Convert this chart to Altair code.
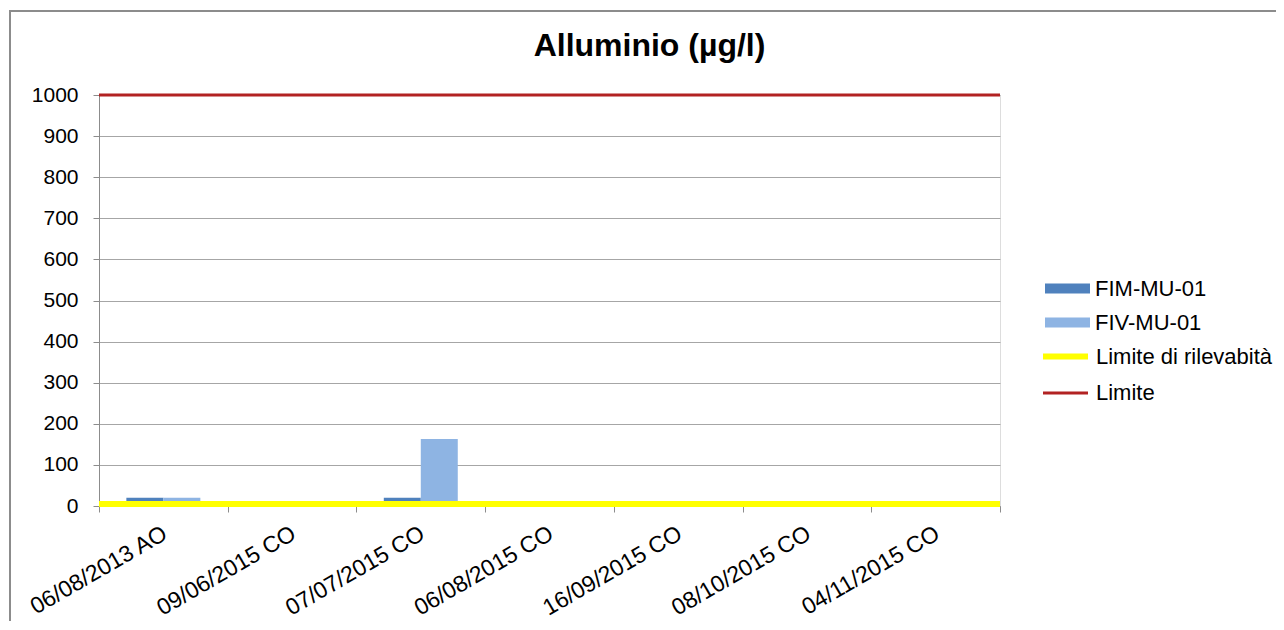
import altair as alt
import pandas as pd

# ---- data ----
categorie = ["06/08/2013 AO", "09/06/2015 CO", "07/07/2015 CO", "06/08/2015 CO",
             "16/09/2015 CO", "08/10/2015 CO", "04/11/2015 CO"]
fim_mu_01 = [20, None, 20, None, None, None, None]
fiv_mu_01 = [20, None, 163, None, None, None, None]
serie_barre = ["FIM-MU-01", "FIV-MU-01"]
colori_barre = ["#4F81BD", "#8EB4E3"]
serie_linee = ["Limite di rilevabità", "Limite"]
valori_linee = [5, 1000]
colori_linee = ["#FFFF00", "#B22222"]
spessori_linee = [6, 3]
y_ticks = list(range(0, 1001, 100))

FONT = "Liberation Sans"
GRAY = "#8C8C8C"

rows = []
for c, a, b in zip(categorie, fim_mu_01, fiv_mu_01):
    rows.append({"categoria": c, "serie": serie_barre[0], "valore": a})
    rows.append({"categoria": c, "serie": serie_barre[1], "valore": b})
df_bars = pd.DataFrame(rows).dropna()
df_lines = pd.DataFrame({"serie": serie_linee, "valore": valori_linee})

W, H = 901, 411

border = alt.Chart(pd.DataFrame({"k": [0]})).mark_rect(
    filled=False, stroke=GRAY, strokeWidth=2
).encode(
    x=alt.value(-89), x2=alt.value(1400), y=alt.value(-84), y2=alt.value(800)
)

x_enc = alt.X(
    "categoria:N", sort=categorie, title=None,
    scale=alt.Scale(domain=categorie, paddingInner=0, paddingOuter=0),
    axis=alt.Axis(
        tickBand="extent", labelAngle=-30, labelAlign="right", labelBaseline="top",
        labelFontSize=23, labelFont=FONT, labelColor="#000000", labelPadding=10,
        labelOffset=-4,
        tickSize=6, tickColor=GRAY, domainColor=GRAY, grid=False, labelOverlap=False,
    ),
)
y_enc = alt.Y(
    "valore:Q", title=None,
    scale=alt.Scale(domain=[0, 1000], nice=False),
    axis=alt.Axis(
        values=y_ticks, format="d", labelFontSize=21, labelFont=FONT, labelColor="#000000",
        labelPadding=15, tickSize=6, tickColor=GRAY, domainColor=GRAY,
        grid=True, gridColor="#A6A6A6", gridWidth=1,
    ),
)

bars = alt.Chart(df_bars).mark_bar().encode(
    x=x_enc,
    xOffset=alt.XOffset("serie:N", sort=serie_barre,
                        scale=alt.Scale(domain=serie_barre, paddingInner=0, paddingOuter=0.74)),
    y=y_enc,
    fill=alt.Fill(
        "serie:N",
        scale=alt.Scale(domain=serie_barre, range=colori_barre),
        legend=alt.Legend(
            title=None, orient="none", legendX=946, legendY=171,
            symbolType="M-1,-0.22H1V0.22H-1Z", symbolSize=2025, symbolStrokeWidth=0,
            labelFontSize=22, labelFont=FONT, labelColor="#000000", labelOffset=5,
            rowPadding=-1, labelLimit=300,
        ),
    ),
)

line_legend = alt.Legend(
    title=None, orient="none", legendX=941, legendY=236,
    symbolType="stroke", symbolSize=2025,
    labelFontSize=22, labelFont=FONT, labelColor="#000000", labelOffset=5,
    rowPadding=-4, labelLimit=300,
)

rules = alt.Chart(df_lines).mark_rule(strokeCap="butt").encode(
    y=alt.Y("valore:Q"),
    stroke=alt.Stroke("serie:N", scale=alt.Scale(domain=serie_linee, range=colori_linee),
                      legend=line_legend),
    strokeWidth=alt.StrokeWidth("serie:N", scale=alt.Scale(domain=serie_linee, range=spessori_linee),
                                legend=line_legend),
)

chart = alt.layer(border, bars, rules).properties(
    width=W, height=H,
    autosize=alt.AutoSizeParams(type="none"),
    padding={"left": 91, "top": 87, "right": 276, "bottom": 115},
    title=alt.TitleParams(
        "Alluminio (µg/l)", font=FONT, fontSize=32, fontWeight="bold", color="#000000",
        anchor="middle", frame="group", dx=100, offset=-53,
    ),
).configure_view(stroke="transparent").configure(background="#FFFFFF")

chart.save("out.html", embed_options={"renderer": "svg", "actions": False})
